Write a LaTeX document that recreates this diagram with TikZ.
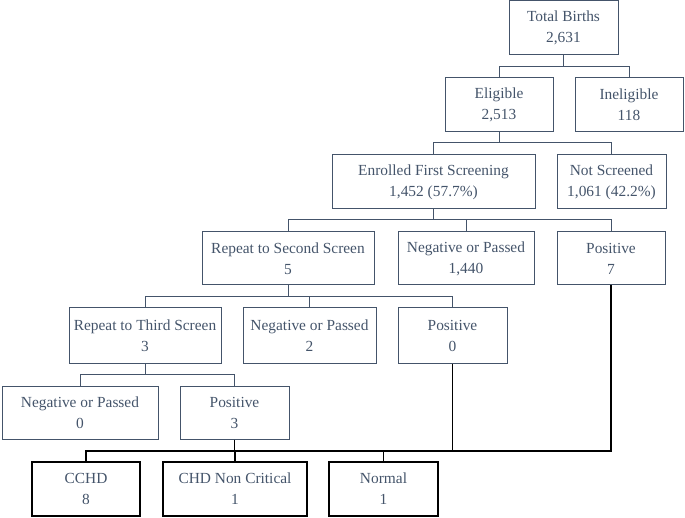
\documentclass[tikz,border=0pt]{standalone}
\usepackage{fontspec}
\setmainfont{Liberation Serif}
\definecolor{slate}{HTML}{44546A}
\begin{document}
\begin{tikzpicture}[x=1pt,y=-1pt,
  box/.style={draw=slate,line width=1pt,text=slate,align=center,inner sep=0pt,
    font=\fontsize{15.4}{21}\selectfont,minimum height=#1},
  box/.default=54,
  endbox/.style={box,draw=black,line width=1.3pt},
  link/.style={draw=slate,line width=1pt},
  blink/.style={draw=black,line width=1.2pt}]
\useasboundingbox (0,0) rectangle (685,518);
\node[box,minimum width=109] (tb) at (563.5,28) {Total Births\\2,631};
\node[box,minimum width=108] (el) at (499,105) {Eligible\\2,513};
\node[box,minimum width=108] (in) at (629,105) {Ineligible\\118};
\node[box,minimum width=203] (en) at (433.5,182) {Enrolled First Screening\\1,452 (57.7\%)};
\node[box,minimum width=109] (ns) at (611.5,182) {Not Screened\\1,061 (42.2\%)};
\node[box=53,minimum width=172] (r2) at (288,258.5) {Repeat to Second Screen\\5};
\node[box=53,minimum width=136] (np1) at (466,258.5) {Negative or Passed\\1,440};
\node[box=53,minimum width=108] (p7) at (611,258.5) {Positive\\7};
\node[box=55,minimum width=152] (r3) at (145,335.5) {Repeat to Third Screen\\3};
\node[box=55,minimum width=133] (np2) at (309.5,335.5) {Negative or Passed\\2};
\node[box=55,minimum width=109] (p0) at (452.5,335.5) {Positive\\0};
\node[box=53,minimum width=156] (np0) at (80,412.5) {Negative or Passed\\0};
\node[box=53,minimum width=109] (p3) at (234.5,412.5) {Positive\\3};
\node[endbox,minimum width=108] (cchd) at (86,489) {CCHD\\8};
\node[endbox,minimum width=144] (chd) at (235,489) {CHD Non Critical\\1};
\node[endbox,minimum width=109] (nor) at (383.5,489) {Normal\\1};
% tree connectors
\draw[link] (tb.south) -- (tb.south |- 0,67) -| (el.north);
\draw[link] (tb.south) -- (tb.south |- 0,67) -| (in.north);
\draw[link] (el.south) -- (el.south |- 0,143) -| (en.north);
\draw[link] (el.south) -- (el.south |- 0,143) -| (ns.north);
\draw[link] (en.south) -- (en.south |- 0,220) -| (r2.north);
\draw[link] (en.south) -- (en.south |- 0,220) -| (np1.north);
\draw[link] (en.south) -- (en.south |- 0,220) -| (p7.north);
\draw[link] (r2.south) -- (r2.south |- 0,297) -| (r3.north);
\draw[link] (r2.south) -- (r2.south |- 0,297) -| (np2.north);
\draw[link] (r2.south) -- (r2.south |- 0,297) -| (p0.north);
\draw[link] (r3.south) -- (r3.south |- 0,374) -| (np0.north);
\draw[link] (r3.south) -- (r3.south |- 0,374) -| (p3.north);
% outcome connectors
\coordinate (bus) at (0,451);
\draw[blink] (p7.south) -- (p7.south |- bus) -- (cchd.north |- bus) -- (cchd.north);
\draw[blink] (p0.south) -- (p0.south |- bus);
\draw[blink] (p3.south) -- (p3.south |- bus);
\draw[blink] (chd.north |- bus) -- (chd.north);
\draw[blink] (nor.north |- bus) -- (nor.north);
\end{tikzpicture}
\end{document}
